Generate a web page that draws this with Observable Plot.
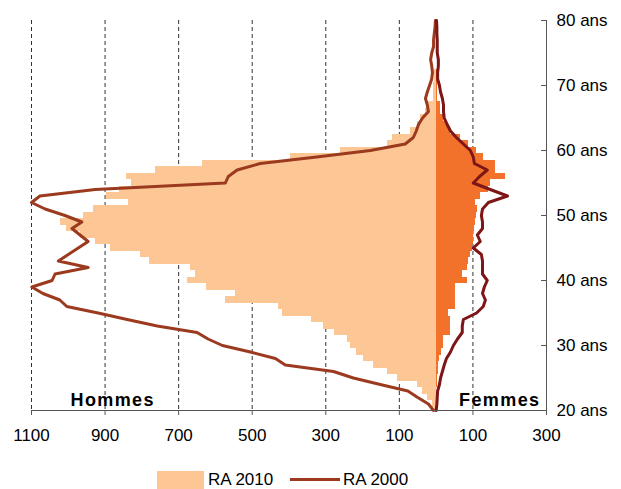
<!DOCTYPE html>
<html><head><meta charset="utf-8">
<script src="https://cdn.jsdelivr.net/npm/d3@7"></script>
<script src="https://cdn.jsdelivr.net/npm/@observablehq/plot@0.6"></script>
<style>
body{margin:0;background:#fff;font-family:"Liberation Sans",Arial,sans-serif;}
#wrap{position:relative;width:621px;height:489px;overflow:hidden;}
#legend{position:absolute;left:0;top:468px;width:621px;height:21px;font-size:17px;color:#000;}
#legend .sw{position:absolute;}
#legend .lb{position:absolute;top:2px;white-space:nowrap;line-height:19px;}
</style></head><body>
<div id="wrap"><div id="chart"></div>
<div id="legend">
  <div class="sw" style="left:157px;top:3px;width:47px;height:18px;background:#FCC794"></div>
  <div class="lb" style="left:208px">RA 2010</div>
  <div class="sw" style="left:290px;top:10px;width:50px;height:3px;background:#9B3A1E"></div>
  <div class="lb" style="left:343px">RA 2000</div>
</div></div>
<script>
const ages = [20,21,22,23,24,25,26,27,28,29,30,31,32,33,34,35,36,37,38,39,40,41,42,43,44,45,46,47,48,49,50,51,52,53,54,55,56,57,58,59,60,61,62,63,64,65,66,67,68,69,70,71,72,73,74,75,76,77,78,79,80];
const men2010 = [5,10,24,37,52,105,132,171,197,217,233,242,277,307,339,418,429,573,546,625,675,655,669,778,805,884,927,968,1006,1022,959,932,837,895,862,829,843,764,636,396,260,133,118,70,50,43,30,25,8,6,6,5,5,0,0,0,0,0,0,0,0];
const women2010 = [2,2,2,2,3,4,6,6,9,14,20,20,39,39,39,33,52,53,53,53,85,71,85,88,93,99,101,101,104,107,110,112,107,120,142,147,188,160,160,128,110,88,65,40,30,20,12,12,4,4,4,4,4,0,0,0,0,0,0,0,0];
const men2000 = [7,21,50,77,152,225,279,410,437,505,581,620,650,758,840,919,1004,1023,1069,1099,1044,1036,946,1027,1000,973,946,968,990,963,1009,1063,1100,1077,927,573,565,541,478,325,179,84,62,54,48,37,21,24,29,24,18,12,10,12,15,12,7,7,5,3,2];
const women2000 = [0,2,3,4,9,12,17,22,28,39,47,58,71,71,74,110,128,134,126,131,139,126,126,126,123,101,120,112,126,126,123,126,142,194,147,101,118,139,104,101,93,74,55,39,30,22,20,20,17,12,9,4,4,6,6,3,3,3,2,2,1];
const xTicks = [-1100,-900,-700,-500,-300,-100,100,300];
const yTicks = [20,30,40,50,60,70,80];
const sideLabels = ["Hommes","Femmes"];

const rows = ages.map((a,i)=>({age:a, men10:men2010[i], women10:women2010[i], men00:men2000[i], women00:women2000[i]}));

const chart = Plot.plot({
  width:621, height:468, marginTop:20, marginBottom:58, marginLeft:31, marginRight:75,
  style:{fontFamily:"'Liberation Sans', Arial, sans-serif", fontSize:"17px", color:"#000", background:"#fff"},
  x:{domain:[-1100,300]},
  y:{domain:[20,80]},
  marks:[
    Plot.ruleX(xTicks, {stroke:"#333", strokeDasharray:"4,3", strokeWidth:1}),
    Plot.rect(rows, {y1:d=>d.age-0.5, y2:d=>d.age+0.5, x1:0, x2:d=>-d.men10, fill:"#FCC794", inset:0, shapeRendering:"crispEdges", clip:true}),
    Plot.rect(rows, {y1:d=>d.age-0.5, y2:d=>d.age+0.5, x1:0, x2:"women10", fill:"#F2712B", inset:0, shapeRendering:"crispEdges", clip:true}),
    Plot.line(rows, {x:d=>-d.men00, y:"age", stroke:"#9B3A1E", strokeWidth:3}),
    Plot.line(rows, {x:"women00", y:"age", stroke:"#7E1516", strokeWidth:3}),
    Plot.ruleY([20], {stroke:"#555"}),
    Plot.ruleX([300], {stroke:"#555"}),
    Plot.axisX({ticks:xTicks, tickFormat:d=>String(Math.abs(d)), tickSize:5, tickPadding:13, label:null, stroke:"#555", fill:"#000", fontSize:17}),
    Plot.axisY({anchor:"right", ticks:yTicks, tickFormat:d=>d+" ans", tickSize:-6, tickPadding:16, label:null, stroke:"#555", fill:"#000", fontSize:17}),
    Plot.text([sideLabels[0]], {text:d=>d, frameAnchor:"bottom-left", dx:39, dy:-5, textAnchor:"start", fontWeight:"bold", fontSize:18, fill:"#000"}),
    Plot.text([sideLabels[1]], {text:d=>d, frameAnchor:"bottom-right", dx:-6, dy:-5, textAnchor:"end", fontWeight:"bold", fontSize:18, fill:"#000"})
  ]
});
document.getElementById("chart").appendChild(chart);
d3.select(chart).selectAll("text").filter(function(){return this.textContent==="Hommes"||this.textContent==="Femmes";}).style("letter-spacing","1.4px");
</script>
</body></html>
